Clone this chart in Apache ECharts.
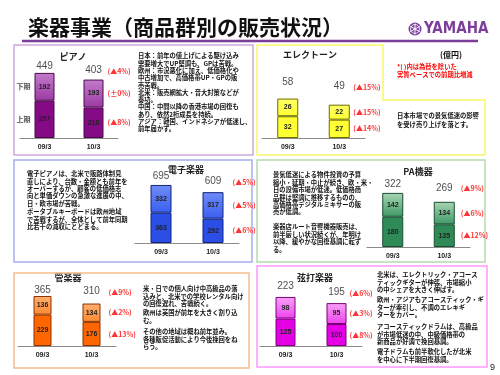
<!DOCTYPE html>
<html>
<head>
<meta charset="utf-8">
<script src="https://cdn.jsdelivr.net/npm/echarts@6/dist/echarts.min.js"></script>
<style>
  html, body { margin: 0; padding: 0; background: #fff; }
  #main { width: 500px; height: 375px; }
</style>
</head>
<body>
<div id="main"></div>
<script>
// 億円, 上期 / 下期 per fiscal year
var periods = ['09/3', '10/3'];
var halfNames = ['上期', '下期'];

var pianoFirst = [257, 210];
var pianoSecond = [192, 193];
var pianoChange = ['(▲8%)', '(±0%)', '(▲4%)'];   // 上期, 下期, 通期

var electoneFirst = [32, 27];
var electoneSecond = [26, 22];
var electoneChange = ['(▲14%)', '(▲15%)', '(▲15%)'];

var digitalFirst = [363, 292];
var digitalSecond = [332, 317];
var digitalChange = ['(▲6%)', '(▲5%)', '(▲5%)'];

var paFirst = [180, 135];
var paSecond = [142, 134];
var paChange = ['(▲12%)', '(▲6%)', '(▲9%)'];

var windFirst = [229, 176];
var windSecond = [136, 134];
var windChange = ['(▲13%)', '(▲2%)', '(▲9%)'];

var stringFirst = [125, 100];
var stringSecond = [98, 95];
var stringChange = ['(▲8%)', '(▲3%)', '(▲6%)'];

var JP = '"Noto Sans CJK JP", sans-serif';

var grids = [], xAxes = [], yAxes = [], series = [], graphics = [];

function addChart(c) {
    var g = grids.length;
    var totals = [c.first[0] + c.second[0], c.first[1] + c.second[1]];
    grids.push({left: c.left, top: c.top, width: c.width, height: c.height});
    xAxes.push({
        gridIndex: g, type: 'category', data: periods,
        axisLine: {lineStyle: {color: '#8a8a8a'}},
        axisTick: {length: 3, lineStyle: {color: '#8a8a8a'}},
        axisLabel: {fontSize: 7, fontWeight: 'bold', color: '#222', margin: 6, fontFamily: 'Liberation Sans, sans-serif'}
    });
    yAxes.push({gridIndex: g, type: 'value', min: 0, max: c.max, show: false});

    var inLabel = {show: true, position: 'inside', fontSize: 7, fontWeight: 'bold', color: '#222',
        fontFamily: 'Liberation Sans, sans-serif'};
    series.push({
        type: 'bar', xAxisIndex: g, yAxisIndex: g, stack: 's' + g, barWidth: c.barWidth,
        data: c.first,
        itemStyle: {color: c.lower, borderColor: c.border, borderWidth: 1},
        label: inLabel
    });
    series.push({
        type: 'bar', xAxisIndex: g, yAxisIndex: g, stack: 's' + g, barWidth: c.barWidth,
        data: c.second,
        itemStyle: {
            color: new echarts.graphic.LinearGradient(0, 0, 0, 1, [
                {offset: 0, color: c.upperTop}, {offset: 1, color: c.upper}]),
            borderColor: c.border, borderWidth: 1
        },
        label: inLabel
    });
    // totals above the bars
    series.push({
        type: 'scatter', xAxisIndex: g, yAxisIndex: g, symbolSize: 1,
        itemStyle: {color: 'transparent'}, silent: true,
        data: totals.map(function (t, i) {
            return {value: [i, t], label: {distance: c.gap[i]}};
        }),
        label: {show: true, position: 'top', fontSize: 10, color: '#222',
            fontFamily: 'Liberation Sans, sans-serif',
            formatter: function (p) { return p.value[1]; }}
    });
    // red change rates next to 10/3
    var pts = [c.first[1] / 2, c.first[1] + c.second[1] / 2, totals[1]];
    series.push({
        type: 'scatter', xAxisIndex: g, yAxisIndex: g, symbolSize: 1,
        itemStyle: {color: 'transparent'}, silent: true,
        data: pts.map(function (v, i) {
            var d = {value: [1, v]};
            if (i === 2) d.label = {offset: [0, -(c.gap[1] + 5)]};
            return d;
        }),
        label: {show: true, position: 'right', distance: c.pctDist, fontSize: 7, fontWeight: 'bold',
            color: '#ff0000', fontFamily: JP,
            formatter: function (p) { return c.change[p.dataIndex]; }}
    });
    if (c.halves) {
        series.push({
            type: 'scatter', xAxisIndex: g, yAxisIndex: g, symbolSize: 1,
            itemStyle: {color: 'transparent'}, silent: true,
            data: [[0, c.first[0] / 2], [0, c.first[0] + c.second[0] / 2]],
            label: {show: true, position: 'left', distance: 13.5, fontSize: 7, fontWeight: 'bold',
                color: '#222', fontFamily: JP,
                formatter: function (p) { return halfNames[p.dataIndex]; }}
        });
    }
    graphics.push({type: 'text', x: c.tx, y: c.ty, style: {
        text: c.title, fontSize: 9, fontWeight: 'bold', fontFamily: JP, fill: '#222',
        align: 'center', verticalAlign: 'middle'}});
}

addChart({title: 'ピアノ', tx: 73, ty: 57, first: pianoFirst, second: pianoSecond, change: pianoChange,
    left: 20, top: 65.5, width: 98, height: 72.5, max: 500, barWidth: 20, gap: [1, 3.5], pctDist: 13.5,
    lower: '#850a85', upper: '#9c3aa4', upperTop: '#c27ccb', border: '#4a0a4a', halves: true});
addChart({title: 'エレクトーン', tx: 310, ty: 55, first: electoneFirst, second: electoneSecond, change: electoneChange,
    left: 262, top: 83.6, width: 103, height: 54.4, max: 80, barWidth: 21, gap: [10.5, 12.5], pctDist: 13.5,
    lower: '#ffff33', upper: '#ffff33', upperTop: '#ffff66', border: '#6b6b00'});
addChart({title: '電子楽器', tx: 186, ty: 170, first: digitalFirst, second: digitalSecond, change: digitalChange,
    left: 135, top: 176.2, width: 104, height: 66.8, max: 800, barWidth: 21, gap: [3, 5], pctDist: 19,
    lower: '#2a4ee6', upper: '#3a5ff0', upperTop: '#6f8cf7', border: '#13257a'});
addChart({title: 'PA機器', tx: 418, ty: 172, first: paFirst, second: paSecond, change: paChange,
    left: 367, top: 188.2, width: 103, height: 58.8, max: 350, barWidth: 21, gap: [3, 8], pctDist: 16,
    lower: '#2e8b57', upper: '#3f9a66', upperTop: '#a8d6b4', border: '#1a4d30'});
addChart({title: '管楽器', tx: 68, ty: 278, first: windFirst, second: windSecond, change: windChange,
    left: 18, top: 291.2, width: 98, height: 54.8, max: 400, barWidth: 18, gap: [0, 6.5], pctDist: 16.5,
    lower: '#ff6600', upper: '#ff8a30', upperTop: '#ffb070', border: '#8a3300'});
addChart({title: '弦打楽器', tx: 315, ty: 278, first: stringFirst, second: stringSecond, change: stringChange,
    left: 260, top: 291, width: 102, height: 55, max: 250, barWidth: 20, gap: [5, 5], pctDist: 12.5,
    lower: '#e600e6', upper: '#ee44ee', upperTop: '#f8a0f8', border: '#7a007a'});

function para(x, yCenter, lh, lines, color) {
    graphics.push({type: 'text', x: x, y: yCenter - lh / 2, style: {
        text: lines.join('\n'), fontSize: 6.3, fontWeight: 'bold', fontFamily: JP,
        fill: color || '#111', lineHeight: lh, verticalAlign: 'top'}});
}

// frames
graphics.push(
    {type: 'line', shape: {x1: 22, y1: 41, x2: 478, y2: 41}, style: {stroke: '#7b3f99', lineWidth: 2.5}},
    {type: 'rect', shape: {x: 14, y: 45, width: 239, height: 110}, style: {fill: 'none', stroke: '#cda8dc', lineWidth: 1.5}},
    {type: 'polygon', shape: {points: [[257, 45], [383, 45], [383, 100], [485, 100], [485, 155], [257, 155]]},
        style: {fill: 'none', stroke: '#f7f76a', lineWidth: 1.5}},
    {type: 'rect', shape: {x: 14, y: 160, width: 238, height: 102}, style: {fill: 'none', stroke: '#a8acf0', lineWidth: 1.5}},
    {type: 'rect', shape: {x: 257, y: 160, width: 228, height: 102}, style: {fill: 'none', stroke: '#b4dcac', lineWidth: 1.5}},
    {type: 'rect', shape: {x: 14, y: 273, width: 235, height: 95}, style: {fill: 'none', stroke: '#f8bc8c', lineWidth: 1.5}},
    {type: 'rect', shape: {x: 257, y: 266, width: 230, height: 101}, style: {fill: 'none', stroke: '#ff96ff', lineWidth: 1.5}}
);

// header
graphics.push(
    {type: 'text', x: 28, y: 27.5, style: {text: '楽器事業（商品群別の販売状況）', fontSize: 21, fontWeight: 'bold',
        fontFamily: JP, fill: '#111', verticalAlign: 'middle'}},
    {type: 'circle', shape: {cx: 415, cy: 29, r: 6.5}, style: {fill: '#7b3f99'}},
    {type: 'circle', shape: {cx: 415, cy: 29, r: 4.5}, style: {fill: 'none', stroke: '#fff', lineWidth: 0.8}},
    {type: 'line', shape: {x1: 415, y1: 23.5, x2: 415, y2: 34.5}, style: {stroke: '#fff', lineWidth: 1}},
    {type: 'line', shape: {x1: 410.2, y1: 26.2, x2: 419.8, y2: 31.8}, style: {stroke: '#fff', lineWidth: 1}},
    {type: 'line', shape: {x1: 410.2, y1: 31.8, x2: 419.8, y2: 26.2}, style: {stroke: '#fff', lineWidth: 1}},
    {type: 'text', x: 424, y: 29.5, style: {text: 'YAMAHA', fontSize: 15, fontWeight: 'bold',
        fontFamily: '"Liberation Sans Narrow", "DejaVu Sans Condensed", sans-serif', fill: '#7b3f99', verticalAlign: 'middle'}},
    {type: 'text', x: 440, y: 55, style: {text: '(億円)', fontSize: 8, fontWeight: 'bold', fontFamily: JP,
        fill: '#111', verticalAlign: 'middle'}},
    {type: 'text', x: 490, y: 368, style: {text: '9', fontSize: 9, fontFamily: 'Liberation Sans, sans-serif',
        fill: '#222', verticalAlign: 'middle'}}
);
para(397, 67, 8, ['*( )内は為替を除いた', '実質ベースでの前期比増減'], '#ff0000');

// comments
para(138, 56, 7.3, ['日本：前年の値上げによる駆け込み', '需要増大でUP堅調も、GPは苦戦。',
    '欧州：市況悪化に加え、低価格化や', '中古増加で、高価格帯UP・GPの販', '売苦戦。',
    '北米：販売網拡大・音大対策などが', '奏功。', '中国：中間以降の香港市場の回復も',
    'あり、依然2桁成長を持続。', 'アジア：韓国、インドネシアが低迷し、', '前年届かず。']);
para(397, 116, 8.5, ['日本市場での景気低迷の影響', 'を受け売り上げを落とす。']);
para(27, 174, 7.3, ['電子ピアノは、北米で販路体制見', '直しにより、台数・金額とも前年を',
    'オーバーするが、顧客の低価格志', '向と単価ダウンの急激な進展の中、', '日・欧市場が苦戦。']);
para(27, 212, 7.3, ['ポータブルキーボードは欧州地域', 'で苦戦するが、全体として前年同期', '比若干の減収にとどまる。']);
para(273, 175, 7.4, ['景気低迷による物件投資の予算', '縮小・延期・中止が続き、欧・米・',
    '日の設備市場が低迷。低価格商', '品群は堅調に推移するものの、', '高価格帯デジタルミキサーの販', '売が低調。']);
para(273, 227, 7.5, ['楽器店ルート音響機器販売は、', '前半厳しい状況続くが、年明け',
    '以降、緩やかな回復基調に転ず', 'る。']);
para(143, 289, 7.2, ['米・日での個人向け中高級品の落', '込みと、北米での学校レンタル向け', 'の回復遅れ、苦戦続く。']);
para(143, 313, 7.2, ['欧州は英国が前年を大きく割り込', 'む。']);
para(143, 332, 7.4, ['その他の地域は概ね前年並み。', '各種販促活動により今後挽回をね', 'らう。']);
para(377, 275, 7.5, ['北米は、エレクトリック・アコース', 'ティックギターが伸張、市場縮小', 'の中シェアを大きく伸ばす。']);
para(377, 300, 7.5, ['欧州・アジアもアコースティック・ギ', 'ターが牽引し、不調のエレキギ', 'ターをカバー。']);
para(377, 327, 7.5, ['アコースティックドラムは、高級品', 'が市場低迷の中、中級価格帯の', '新商品が好調で挽回基調。']);
para(377, 352, 7.5, ['電子ドラムも前半軟化したが北米', 'を中心に下半期回復基調。']);

var chart = echarts.init(document.getElementById('main'));
var option = {
    backgroundColor: '#ffffff',
    animation: false,
    grid: grids,
    xAxis: xAxes,
    yAxis: yAxes,
    series: series,
    graphic: graphics
};
chart.setOption(option);
</script>
</body>
</html>
